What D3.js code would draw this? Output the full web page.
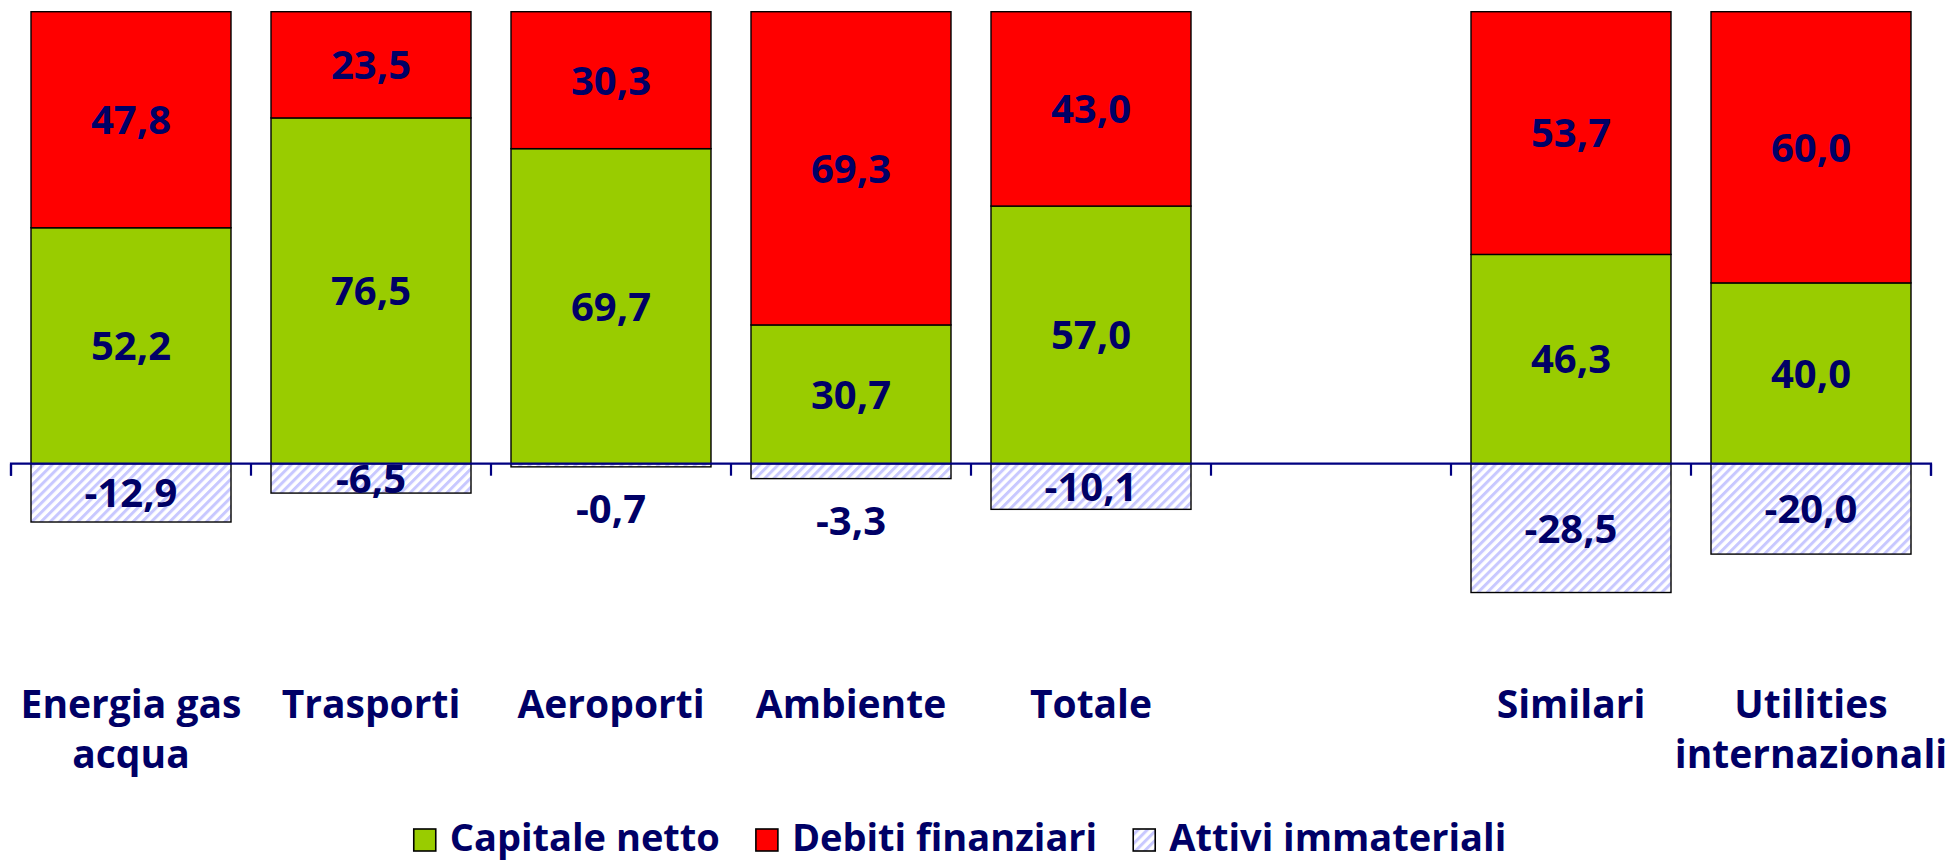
<!DOCTYPE html>
<html>
<head>
<meta charset="utf-8">
<script src="https://cdn.jsdelivr.net/npm/d3@7"></script>
<style>
  html, body { margin: 0; padding: 0; background: #ffffff; }
  svg { display: block; }
  text { font-family: "Open Sans", "Liberation Sans", sans-serif; font-weight: 700; fill: #000066; }
</style>
</head>
<body>
<script>
// ---- data ----
const categories = ["Energia gas acqua", "Trasporti", "Aeroporti", "Ambiente", "Totale", "", "Similari", "Utilities internazionali"];
const categoryLines = [["Energia gas", "acqua"], ["Trasporti"], ["Aeroporti"], ["Ambiente"], ["Totale"], [], ["Similari"], ["Utilities", "internazionali"]];
const capitaleNetto = [52.2, 76.5, 69.7, 30.7, 57.0, null, 46.3, 40.0];
const debitiFinanziari = [47.8, 23.5, 30.3, 69.3, 43.0, null, 53.7, 60.0];
const attiviImmateriali = [-12.9, -6.5, -0.7, -3.3, -10.1, null, -28.5, -20.0];
const seriesNames = ["Capitale netto", "Debiti finanziari", "Attivi immateriali"];

const W = 1946, H = 862;
const svg = d3.select("body").append("svg").attr("width", W).attr("height", H);

const defs = svg.append("defs");
const pat = defs.append("pattern")
  .attr("id", "hatch").attr("patternUnits", "userSpaceOnUse")
  .attr("width", 6.5).attr("height", 6.5)
  .attr("patternTransform", "rotate(45)");
pat.append("rect").attr("width", 6.5).attr("height", 6.5).attr("fill", "#ffffff");
pat.append("rect").attr("width", 3).attr("height", 6.5).attr("fill", "#c8c8ff");

const x = d3.scaleBand().domain(categories.map((c, i) => i))
  .range([11, 1931]).paddingInner(40 / 240).paddingOuter(20 / 240);
const y = d3.scaleLinear().domain([-40, 100]).range([463.7 + 40 * 4.52, 11.7]);

const fmt = v => d3.format(".1f")(v).replace(".", ",").replace("\u2212", "-");

// segments
const segs = [];
categories.forEach((c, i) => {
  if (capitaleNetto[i] == null) return;
  const cap = capitaleNetto[i], deb = debitiFinanziari[i], att = attiviImmateriali[i];
  segs.push({ i, y0: 0, y1: cap, v: cap, fill: "#99cc00" });
  segs.push({ i, y0: cap, y1: cap + deb, v: deb, fill: "#ff0000" });
  segs.push({ i, y0: att, y1: 0, v: att, fill: "url(#hatch)" });
});

const g = svg.append("g");
g.selectAll("rect.seg").data(segs).join("rect")
  .attr("class", "seg")
  .attr("x", d => x(d.i))
  .attr("width", x.bandwidth())
  .attr("y", d => y(d.y1))
  .attr("height", d => y(d.y0) - y(d.y1))
  .attr("fill", d => d.fill)
  .attr("stroke", "#000000")
  .attr("stroke-width", 1.4);

// axis at zero
const axis = d3.axisBottom(x).tickSize(12).tickFormat("");
const ax = svg.append("g").attr("transform", `translate(0,${y(0)})`).call(axis);
ax.select(".domain").attr("stroke", "#000080").attr("stroke-width", 2.2)
  .attr("d", `M11,12V0H1931V12`);
ax.selectAll(".tick").remove();
const tickPos = d3.range(categories.length + 1).map(k => 11 + k * x.step());
ax.selectAll("line.tk").data(tickPos).join("line").attr("class", "tk")
  .attr("x1", d => d).attr("x2", d => d).attr("y1", 0).attr("y2", 12)
  .attr("stroke", "#000080").attr("stroke-width", 2.2);

// value labels
svg.selectAll("text.val").data(segs).join("text")
  .attr("class", "val")
  .attr("x", d => x(d.i) + x.bandwidth() / 2)
  .attr("y", d => {
    const h = Math.abs(y(d.y0) - y(d.y1));
    if (d.v < 0 && h < 20) return y(d.y0) + 42;
    return (y(d.y0) + y(d.y1)) / 2;
  })
  .attr("dy", "0.36em")
  .attr("text-anchor", "middle")
  .attr("font-size", 40)
  .text(d => fmt(d.v));

// category labels
categories.forEach((c, i) => {
  const t = svg.append("text")
    .attr("text-anchor", "middle")
    .attr("font-size", 39)
    .attr("x", x(i) + x.bandwidth() / 2)
    .attr("y", 718);
  categoryLines[i].forEach((ln, k) => {
    t.append("tspan").attr("x", x(i) + x.bandwidth() / 2).attr("y", 718 + k * 50).text(ln);
  });
});

// legend
const legFills = ["#99cc00", "#ff0000", "url(#hatch)"];
const leg = svg.append("g");
let lx = 0;
seriesNames.forEach((n, k) => {
  const it = leg.append("g").attr("transform", `translate(${lx},0)`);
  it.append("rect").attr("x", 0).attr("y", -22).attr("width", 22).attr("height", 22)
    .attr("fill", legFills[k]).attr("stroke", "#000000").attr("stroke-width", 1.6);
  const t = it.append("text").attr("x", 36).attr("y", 0).attr("font-size", 38).text(n);
  lx += 36 + t.node().getComputedTextLength() + 36;
});
const legW = lx - 36;
leg.attr("transform", `translate(${960 - legW / 2},851)`);
</script>
</body>
</html>
